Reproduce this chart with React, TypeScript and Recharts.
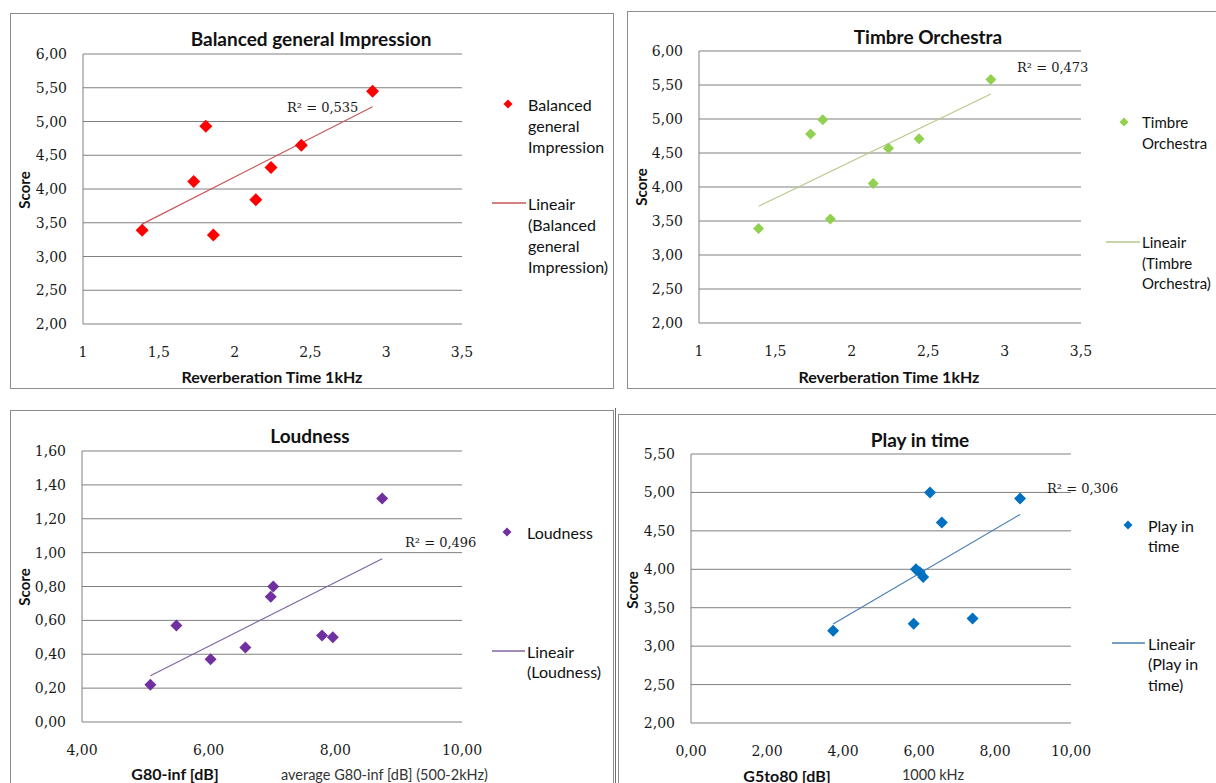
import React from 'react';
import { ScatterChart, Scatter, XAxis, YAxis, CartesianGrid, ReferenceLine } from 'recharts';

const SANS = 'Lato, "Open Sans", sans-serif';
const SERIF = '"DejaVu Serif", "Liberation Serif", serif';
const GRID = '#808080';

// Reverberation time at 1 kHz, same halls in both upper charts
const reverbTime = [1.39, 1.73, 1.81, 1.86, 2.14, 2.24, 2.44, 2.91];
const balancedScore = [3.39, 4.11, 4.93, 3.32, 3.84, 4.32, 4.65, 5.45];
const timbreScore = [3.39, 4.78, 4.99, 3.53, 4.05, 4.57, 4.71, 5.58];

// G80-inf [dB] vs loudness
const g80inf = [5.08, 5.49, 6.03, 6.58, 6.98, 7.02, 7.79, 7.96, 8.74];
const loudnessScore = [0.22, 0.57, 0.37, 0.44, 0.74, 0.8, 0.51, 0.5, 1.32];

// G5to80 [dB] vs play in time
const g5to80 = [3.74, 5.86, 5.92, 6.02, 6.11, 6.29, 6.6, 7.41, 8.66];
const playInTimeScore = [3.2, 3.29, 4.0, 3.96, 3.9, 5.0, 4.61, 3.36, 4.92];

const reverbTicks = [1, 1.5, 2, 2.5, 3, 3.5];
const scoreTicks = [2, 2.5, 3, 3.5, 4, 4.5, 5, 5.5, 6];
const g80Ticks = [4, 6, 8, 10];
const loudnessTicks = [0, 0.2, 0.4, 0.6, 0.8, 1.0, 1.2, 1.4, 1.6];
const g5Ticks = [0, 2, 4, 6, 8, 10];
const playTicks = [2, 2.5, 3, 3.5, 4, 4.5, 5, 5.5];

const rSquared = ['0,535', '0,473', '0,496', '0,306'];

const fmt = (v: number, digits?: number) =>
  (digits == null ? String(v) : v.toFixed(digits)).replace('.', ',');

// least squares trendline between the smallest and largest x
function linearTrend(xs: number[], ys: number[]) {
  const n = xs.length;
  const mx = xs.reduce((a, b) => a + b, 0) / n;
  const my = ys.reduce((a, b) => a + b, 0) / n;
  let sxy = 0;
  let sxx = 0;
  xs.forEach((x, i) => {
    sxy += (x - mx) * (ys[i] - my);
    sxx += (x - mx) * (x - mx);
  });
  const slope = sxy / sxx;
  const x0 = Math.min(...xs);
  const x1 = Math.max(...xs);
  return [
    { x: x0, y: my + slope * (x0 - mx) },
    { x: x1, y: my + slope * (x1 - mx) },
  ];
}

const diamond = (r: number, fill: string) => (props: any) => {
  const { cx, cy } = props;
  if (cx == null || cy == null) return <g />;
  return (
    <polygon
      points={`${cx},${cy - r} ${cx + r},${cy} ${cx},${cy + r} ${cx - r},${cy}`}
      fill={fill}
    />
  );
};

type Pt = [number, number];

interface Panel {
  box: { left: number; top: number; width: number; height: number };
  plot: { left: number; top: number; right: number; bottom: number };
  xs: number[];
  ys: number[];
  xTicks: number[];
  yTicks: number[];
  xDigits?: number;
  color: string;
  trendColor: string;
  markerR: number;
  title: string;
  titleAt: Pt;
  xTitle: string;
  xTitleAt: Pt;
  note?: { text: string; x: number; anchor: 'start' | 'middle' };
  scoreAt: Pt;
  r2: string;
  r2At: Pt;
  legendMarker: Pt;
  legendText: string[];
  legendTextX: number;
  legendSize: number;
  lineLegend: [number, number, number];
  lineText: string[];
  lineStep: number;
}

const panels: Panel[] = [
  {
    box: { left: 10, top: 13, width: 604, height: 376 },
    plot: { left: 83, top: 54, right: 462, bottom: 324 },
    xs: reverbTime,
    ys: balancedScore,
    xTicks: reverbTicks,
    yTicks: scoreTicks,
    color: '#FF0000',
    trendColor: '#C9565A',
    markerR: 6.5,
    title: 'Balanced general Impression',
    titleAt: [311, 38],
    xTitle: 'Reverberation Time 1kHz',
    xTitleAt: [272, 376],
    scoreAt: [24, 190],
    r2: rSquared[0],
    r2At: [287, 107],
    legendMarker: [508, 104],
    legendText: ['Balanced', 'general', 'Impression'],
    legendTextX: 528,
    legendSize: 16,
    lineLegend: [492, 526, 203],
    lineText: ['Lineair', '(Balanced', 'general', 'Impression)'],
    lineStep: 21,
  },
  {
    box: { left: 627, top: 11, width: 620, height: 378 },
    plot: { left: 699, top: 51, right: 1081, bottom: 323 },
    xs: reverbTime,
    ys: timbreScore,
    xTicks: reverbTicks,
    yTicks: scoreTicks,
    color: '#92D050',
    trendColor: '#B5C98C',
    markerR: 5.5,
    title: 'Timbre Orchestra',
    titleAt: [928, 36],
    xTitle: 'Reverberation Time 1kHz',
    xTitleAt: [889, 376],
    scoreAt: [641, 187],
    r2: rSquared[1],
    r2At: [1017, 67],
    legendMarker: [1124, 122],
    legendText: ['Timbre', 'Orchestra'],
    legendTextX: 1142,
    legendSize: 15,
    lineLegend: [1106, 1140, 242],
    lineText: ['Lineair', '(Timbre', 'Orchestra)'],
    lineStep: 20.5,
  },
  {
    box: { left: 10, top: 410, width: 604, height: 400 },
    plot: { left: 82, top: 451, right: 462, bottom: 722 },
    xs: g80inf,
    ys: loudnessScore,
    xTicks: g80Ticks,
    yTicks: loudnessTicks,
    xDigits: 2,
    color: '#7030A0',
    trendColor: '#8064A2',
    markerR: 6,
    title: 'Loudness',
    titleAt: [310, 435],
    xTitle: 'G80-inf [dB]',
    xTitleAt: [175, 773],
    note: { text: 'average G80-inf  [dB] (500-2kHz)', x: 281, anchor: 'start' },
    scoreAt: [24, 587],
    r2: rSquared[2],
    r2At: [405, 542],
    legendMarker: [507, 532],
    legendText: ['Loudness'],
    legendTextX: 527,
    legendSize: 16,
    lineLegend: [492, 525, 651],
    lineText: ['Lineair', '(Loudness)'],
    lineStep: 20.5,
  },
  {
    box: { left: 618, top: 414, width: 620, height: 400 },
    plot: { left: 691, top: 454, right: 1071, bottom: 723 },
    xs: g5to80,
    ys: playInTimeScore,
    xTicks: g5Ticks,
    yTicks: playTicks,
    xDigits: 2,
    color: '#0070C0',
    trendColor: '#4A7EB4',
    markerR: 6,
    title: 'Play in time',
    titleAt: [920, 439],
    xTitle: 'G5to80 [dB]',
    xTitleAt: [787, 775],
    note: { text: '1000 kHz', x: 933, anchor: 'middle' },
    scoreAt: [632, 590],
    r2: rSquared[3],
    r2At: [1047, 488],
    legendMarker: [1128, 525],
    legendText: ['Play in', 'time'],
    legendTextX: 1148,
    legendSize: 16,
    lineLegend: [1112, 1145, 643],
    lineText: ['Lineair', '(Play in', 'time)'],
    lineStep: 20.5,
  },
];

const AXIS_H = 20;

function PanelChart({ p }: { p: Panel }) {
  const { box, plot } = p;
  const innerW = box.width - 2;
  const innerH = box.height - 2;
  const ox = box.left + 1;
  const oy = box.top + 1;
  const plotLeft = plot.left - ox;
  const plotTop = plot.top - oy;
  const plotRight = plot.right - ox;
  const plotBottom = plot.bottom - oy;
  const points = p.xs.map((x, i) => ({ x, y: p.ys[i] }));
  const trend = linearTrend(p.xs, p.ys);
  const xDomain = [p.xTicks[0], p.xTicks[p.xTicks.length - 1]];
  const yDomain = [p.yTicks[0], p.yTicks[p.yTicks.length - 1]];

  return (
    <div
      style={{
        position: 'absolute',
        left: box.left,
        top: box.top,
        width: innerW,
        height: innerH,
        border: '1px solid #8c8c8c',
        background: '#fff',
      }}
    >
      <ScatterChart
        width={innerW}
        height={innerH}
        margin={{
          top: plotTop,
          right: innerW - plotRight,
          bottom: innerH - plotBottom - AXIS_H,
          left: 0,
        }}
      >
        <CartesianGrid vertical={false} stroke={GRID} />
        <XAxis
          type="number"
          dataKey="x"
          domain={xDomain}
          ticks={p.xTicks}
          height={AXIS_H}
          axisLine={false}
          tickLine={false}
          tickSize={0}
          tickMargin={0}
          interval={0}
          tick={(t: any) => (
            <text
              x={t.x}
              y={t.y + 27.5}
              textAnchor="middle"
              dominantBaseline="central"
              fontFamily={SERIF}
              fontSize={14}
              fill="#1a1a1a"
            >
              {fmt(t.payload.value, p.xDigits)}
            </text>
          )}
        />
        <YAxis
          type="number"
          dataKey="y"
          domain={yDomain}
          ticks={p.yTicks}
          width={plotLeft}
          axisLine={{ stroke: GRID }}
          tickLine={false}
          tickSize={0}
          tickMargin={0}
          interval={0}
          tick={(t: any) => (
            <text
              x={t.x - 16}
              y={t.y}
              textAnchor="end"
              dominantBaseline="central"
              fontFamily={SERIF}
              fontSize={14}
              fill="#1a1a1a"
            >
              {fmt(t.payload.value, 2)}
            </text>
          )}
        />
        <ReferenceLine segment={trend} stroke={p.trendColor} strokeWidth={1.2} />
        <Scatter
          data={points}
          fill={p.color}
          shape={diamond(p.markerR, p.color)}
          isAnimationActive={false}
        />
      </ScatterChart>
    </div>
  );
}

function PanelText({ p }: { p: Panel }) {
  const [mx, my] = p.legendMarker;
  const [l0, l1, ly] = p.lineLegend;
  const r = 4.5;
  return (
    <g fontFamily={SANS} fill="#111">
      <text x={p.titleAt[0]} y={p.titleAt[1]} textAnchor="middle" dominantBaseline="central" fontSize={19} fontWeight="bold">
        {p.title}
      </text>
      <text x={p.xTitleAt[0]} y={p.xTitleAt[1]} textAnchor="middle" dominantBaseline="central" fontSize={16} fontWeight="bold">
        {p.xTitle}
      </text>
      {p.note && (
        <text x={p.note.x} y={780} textAnchor={p.note.anchor} fontSize={14.5} fill="#333">
          {p.note.text}
        </text>
      )}
      <text
        transform={`translate(${p.scoreAt[0]},${p.scoreAt[1]}) rotate(-90)`}
        textAnchor="middle"
        dominantBaseline="central"
        fontSize={15}
        fontWeight="bold"
      >
        Score
      </text>
      <text x={p.r2At[0]} y={p.r2At[1]} dominantBaseline="central" fontFamily={SERIF} fontSize={13} fill="#1a1a1a">
        R² = {p.r2}
      </text>
      <polygon points={`${mx},${my - r} ${mx + r},${my} ${mx},${my + r} ${mx - r},${my}`} fill={p.color} />
      {p.legendText.map((s, i) => (
        <text key={s} x={p.legendTextX} y={my + i * p.lineStep} dominantBaseline="central" fontSize={p.legendSize}>
          {s}
        </text>
      ))}
      <line x1={l0} x2={l1} y1={ly} y2={ly} stroke={p.trendColor} strokeWidth={1.5} />
      {p.lineText.map((s, i) => (
        <text key={s} x={p.legendTextX} y={ly + i * p.lineStep} dominantBaseline="central" fontSize={p.legendSize}>
          {s}
        </text>
      ))}
    </g>
  );
}

export default function App() {
  return (
    <div
      style={{
        position: 'absolute',
        left: 0,
        top: 0,
        width: 1216,
        height: 783,
        overflow: 'hidden',
        background: '#fff',
      }}
    >
      {panels.map((p) => (
        <PanelChart key={p.title} p={p} />
      ))}
      <div style={{ position: 'absolute', left: 615, top: 408, width: 1, height: 380, background: '#6e6e6e' }} />
      <svg
        width={1216}
        height={783}
        style={{ position: 'absolute', left: 0, top: 0, pointerEvents: 'none' }}
      >
        {panels.map((p) => (
          <PanelText key={p.title} p={p} />
        ))}
      </svg>
    </div>
  );
}
